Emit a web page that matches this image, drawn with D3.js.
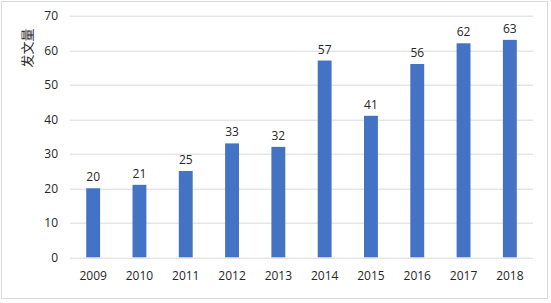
<!DOCTYPE html>
<html>
<head>
<meta charset="utf-8">
<script src="https://cdn.jsdelivr.net/npm/d3@7"></script>
<style>
  body { margin: 0; background: #fff; }
  text { font-family: "Open Sans", "Liberation Sans", sans-serif; fill: #262626; }
</style>
</head>
<body>
<div id="graph"></div>
<script>
var years = ['2009', '2010', '2011', '2012', '2013', '2014', '2015', '2016', '2017', '2018']
var counts = [20, 21, 25, 33, 32, 57, 41, 56, 62, 63]
var yTicks = [0, 10, 20, 30, 40, 50, 60, 70]

var data = years.map((d, i) => ({year: d, val: counts[i]}))

var W = 551, H = 303
var margin = {left: 70, right: 18, top: 15.7, bottom: 45.7}
var width = W - margin.left - margin.right
var height = H - margin.top - margin.bottom

var svg = d3.select('#graph').append('svg')
  .attr('width', W).attr('height', H)

svg.append('rect')
  .attr('x', 1.5).attr('y', 1.5)
  .attr('width', 546).attr('height', 297)
  .attr('fill', '#fff').attr('stroke', '#d9d9d9')

var g = svg.append('g').attr('transform', `translate(${margin.left},${margin.top})`)

var x = d3.scaleBand().domain(years).range([0, width]).paddingInner(0.7).paddingOuter(0.35)
var y = d3.scaleLinear().domain([0, 70]).range([height, 0])

// gridlines
g.selectAll('line.grid').data(yTicks).join('line')
  .attr('class', 'grid')
  .attr('x1', 0).attr('x2', width)
  .attr('y1', d => Math.round(y(d)) + 0.5).attr('y2', d => Math.round(y(d)) + 0.5)
  .attr('stroke', '#d9d9d9')

// y axis labels
var yAxis = d3.axisLeft(y).tickValues(yTicks).tickSize(0).tickPadding(12)
g.append('g').call(yAxis)
  .call(s => s.select('.domain').remove())
  .selectAll('text').attr('font-size', 12).attr('fill', '#262626')
  .attr('font-family', '"Open Sans", sans-serif')

// x axis labels
var xAxis = d3.axisBottom(x).tickSize(0).tickPadding(14)
g.append('g').attr('transform', `translate(0,${height})`).call(xAxis)
  .call(s => s.select('.domain').remove())
  .selectAll('text').attr('font-size', 12).attr('fill', '#262626')
  .attr('font-family', '"Open Sans", sans-serif')

// bars
g.selectAll('rect.bar').data(data).join('rect')
  .attr('class', 'bar')
  .attr('x', d => x(d.year))
  .attr('width', x.bandwidth())
  .attr('y', d => y(d.val))
  .attr('height', d => y(0) - y(d.val))
  .attr('fill', '#4472c4')

// value labels
g.selectAll('text.val').data(data).join('text')
  .attr('class', 'val')
  .attr('x', d => x(d.year) + x.bandwidth() / 2)
  .attr('y', d => y(d.val) - 7)
  .attr('text-anchor', 'middle')
  .attr('font-size', 12)
  .text(d => d.val)

// y title
svg.append('text')
  .attr('transform', 'translate(32,48) rotate(-90)')
  .attr('text-anchor', 'middle')
  .attr('font-size', 13)
  .style('font-family', '"Noto Sans CJK SC", sans-serif')
  .text('发文量')
</script>
</body>
</html>
